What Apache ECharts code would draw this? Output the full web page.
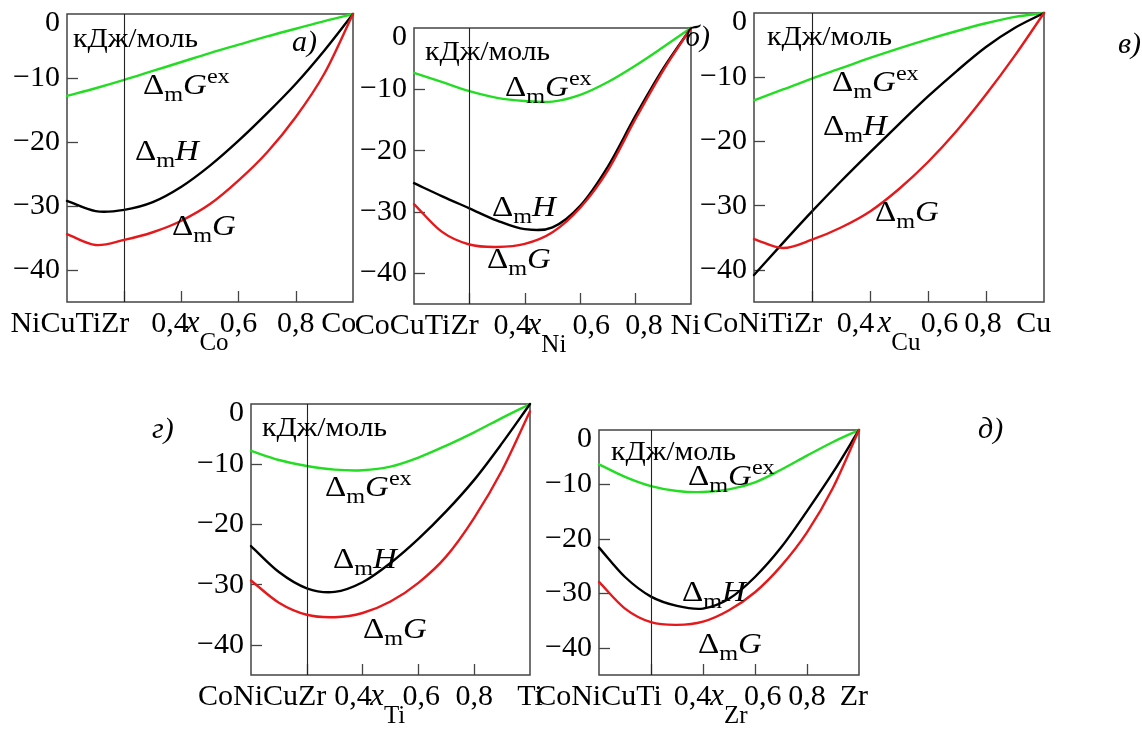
<!DOCTYPE html>
<html>
<head>
<meta charset="utf-8">
<script src="https://cdn.jsdelivr.net/npm/echarts@6/dist/echarts.min.js"></script>
<style>
  html, body { margin: 0; padding: 0; background: #ffffff; }
  #chart { width: 1142px; height: 729px; }
</style>
</head>
<body>
<div id="chart"></div>
<script>
// Mole fraction of the added element
const xs = [0, 0.1, 0.2, 0.3, 0.4, 0.5, 0.6, 0.7, 0.8, 0.9, 1];

// а) NiCuTiZr – Co
const gexCo = [-12.8, -11.6, -10.3, -8.9, -7.5, -6.1, -4.8, -3.5, -2.3, -1.1, 0];
const hCo   = [-29.2, -30.8, -30.6, -29.4, -27.0, -23.7, -19.8, -15.5, -10.9, -5.7, 0];
const gCo   = [-34.4, -36.1, -35.3, -34.1, -32.3, -29.7, -26.0, -21.6, -16.1, -9.3, 0];

// б) CoCuTiZr – Ni
const gexNi = [-7.3, -8.8, -10.3, -11.4, -11.9, -12.0, -10.9, -8.8, -6.1, -3.1, 0];
const hNi   = [-25.3, -27.4, -29.4, -31.4, -32.8, -32.5, -29.0, -22.6, -14.3, -6.6, 0];
const gNi   = [-28.7, -33.2, -35.3, -35.7, -35.2, -33.3, -29.3, -23.2, -14.8, -6.9, 0];

// в) CoNiTiZr – Cu
const gexCu = [-13.6, -11.9, -10.2, -8.6, -7.0, -5.5, -4.1, -2.8, -1.6, -0.6, 0];
const hCu   = [-40.8, -35.8, -30.9, -26.2, -21.7, -17.3, -13.0, -9.0, -5.3, -2.3, 0];
const gCu   = [-35.2, -36.6, -35.3, -33.4, -30.9, -27.4, -23.2, -18.3, -12.7, -6.6, 0];

// г) CoNiCuZr – Ti
const gexTi = [-7.8, -9.3, -10.3, -10.9, -11.0, -10.4, -8.9, -6.9, -4.7, -2.3, 0];
const hTi   = [-23.6, -27.9, -30.6, -31.2, -29.6, -26.4, -22.4, -17.8, -12.6, -6.5, 0];
const gTi   = [-29.3, -33.0, -35.0, -35.4, -34.7, -32.8, -29.7, -25.3, -18.9, -11.0, -1.2];

// д) CoNiCuTi – Zr
const gexZr = [-6.3, -8.6, -10.3, -11.2, -11.4, -10.9, -9.6, -7.3, -4.7, -2.2, 0];
const hZr   = [-21.6, -27.0, -30.6, -32.3, -32.8, -31.0, -27.0, -21.6, -14.9, -7.8, 0];
const gZr   = [-27.9, -32.8, -35.3, -35.8, -35.2, -33.1, -29.8, -25.0, -18.8, -10.6, 0];

// Axis texts
const elements = ['Co', 'Ni', 'Cu', 'Ti', 'Zr'];
const baseAlloys = ['NiCuTiZr', 'CoCuTiZr', 'CoNiTiZr', 'CoNiCuZr', 'CoNiCuTi'];
const panelLetters = ['а)', 'б)', 'в)', 'г)', 'д)'];
const xTickTexts = ['0,4', '0,6', '0,8'];
const yTickValues = [0, -10, -20, -30, -40];
const unitText = 'кДж/моль';
const equiatomicX = 0.2;

const seriesSets = [
  [gexCo, hCo, gCo],
  [gexNi, hNi, gNi],
  [gexCu, hCu, gCu],
  [gexTi, hTi, gTi],
  [gexZr, hZr, gZr]
];

// ---- layout ----
const SERIF = '"Liberation Serif", "DejaVu Serif", serif';
const colors = ['#22dd22', '#000000', '#e5191b'];
const grids = [
  { left: 67,  top: 14,  width: 286, height: 288 },
  { left: 414, top: 28,  width: 277, height: 276 },
  { left: 754, top: 13,  width: 290, height: 289 },
  { left: 251, top: 404, width: 279, height: 281 },
  { left: 599, top: 430, width: 260, height: 260 }
];
// where the bottom texts sit along each x axis: base, 0,4, x, 0,6, 0,8, element
const xLabelSpots = [
  [0.01, 0.36, 0.49, 0.6, 0.8, 0.95],
  [0.01, 0.355, 0.48, 0.64, 0.83, 0.98],
  [0.03, 0.35, 0.50, 0.64, 0.79, 0.965],
  [0.04, 0.366, 0.49, 0.61, 0.80, 1.0],
  [0.0, 0.36, 0.50, 0.63, 0.80, 0.98]
];
// top-left corners of curve captions: [Gex, H, G]
const captionSpots = [
  [[143, 66], [135, 132], [172, 207]],
  [[505, 68], [492, 188], [487, 240]],
  [[832, 63], [823, 107], [875, 193]],
  [[325, 468], [333, 540], [363, 610]],
  [[688, 457], [682, 573], [698, 625]]
];
const unitSpots = [[73, 40], [425, 53], [767, 38], [262, 429], [611, 453]];
const letterSpots = [[292, 43], [685, 38], [1118, 45], [152, 430], [978, 430]];

const tickFont = 30;

// Smooth cubic (Catmull-Rom) path through pixel points
function splinePath(pts) {
  const n = pts.length;
  const at = (i) => {
    if (i < 0) return [2 * pts[0][0] - pts[1][0], 2 * pts[0][1] - pts[1][1]];
    if (i >= n) return [2 * pts[n - 1][0] - pts[n - 2][0], 2 * pts[n - 1][1] - pts[n - 2][1]];
    return pts[i];
  };
  let d = 'M' + pts[0][0] + ' ' + pts[0][1];
  for (let i = 0; i < n - 1; i++) {
    const p0 = at(i - 1), p1 = at(i), p2 = at(i + 1), p3 = at(i + 2);
    const c1x = p1[0] + (p2[0] - p0[0]) / 6, c1y = p1[1] + (p2[1] - p0[1]) / 6;
    const c2x = p2[0] - (p3[0] - p1[0]) / 6, c2y = p2[1] - (p3[1] - p1[1]) / 6;
    d += ' C' + c1x + ' ' + c1y + ' ' + c2x + ' ' + c2y + ' ' + p2[0] + ' ' + p2[1];
  }
  return d;
}

const xAxes = [], yAxes = [], series = [], graphics = [];

grids.forEach((g, i) => {
  const spots = xLabelSpots[i];
  const texts = [
    '{n|' + baseAlloys[i] + '}',
    '{n|' + xTickTexts[0] + '}',
    '{xi|x}{xs|' + elements[i] + '}',
    '{n|' + xTickTexts[1] + '}',
    '{n|' + xTickTexts[2] + '}',
    '{n|' + elements[i] + '}'
  ];
  xAxes.push({
    type: 'value', gridIndex: i, min: 0, max: 1,
    axisLine: { show: false, onZero: false },
    splitLine: { show: false },
    axisTick: {
      show: true, inside: true, length: 11,
      customValues: [0.2, 0.4, 0.6, 0.8],
      lineStyle: { color: '#444', width: 1.3 }
    },
    axisLabel: {
      show: true, margin: 7,
      customValues: spots,
      formatter: (v) => {
        let k = 0;
        spots.forEach((s, j) => { if (Math.abs(s - v) < 1e-6) k = j; });
        return texts[k];
      },
      rich: {
        n: { fontFamily: SERIF, fontSize: tickFont, color: '#000', lineHeight: 30 },
        xi: { fontFamily: SERIF, fontSize: 31, fontStyle: 'italic', color: '#000', lineHeight: 30 },
        xs: { fontFamily: SERIF, fontSize: 25, color: '#000', lineHeight: 30,
              verticalAlign: 'top', padding: [22, 0, 0, 0] }
      }
    }
  });
  yAxes.push({
    type: 'value', gridIndex: i, min: -45, max: 0,
    axisLine: { show: false, onZero: false },
    splitLine: { show: false },
    axisTick: {
      show: true, inside: true, length: 11,
      customValues: [-10, -20, -30, -40],
      lineStyle: { color: '#444', width: 1.3 }
    },
    axisLabel: {
      show: true, margin: 7,
      customValues: yTickValues,
      formatter: (v) => v === 0 ? '{z|0}' : '{n|\u2212' + Math.abs(v) + '}',
      rich: {
        n: { fontFamily: SERIF, fontSize: tickFont, color: '#000' },
        z: { fontFamily: SERIF, fontSize: tickFont, color: '#000', padding: [18, 0, 0, 0] }
      }
    }
  });
  seriesSets[i].forEach((ys, k) => {
    const s = {
      type: 'custom', coordinateSystem: 'cartesian2d',
      xAxisIndex: i, yAxisIndex: i,
      data: xs.map((x, j) => [x, ys[j]]),
      encode: { x: 0, y: 1 },
      clip: false, silent: true, z: 3 + k,
      renderItem: (params, api) => {
        if (params.dataIndex !== 0) return null;
        const pts = xs.map((x, j) => api.coord([x, ys[j]]));
        return {
          type: 'path',
          shape: { pathData: splinePath(pts) },
          style: { stroke: colors[k], fill: null, lineWidth: 2.4, lineJoin: 'round', lineCap: 'round' }
        };
      }
    };
    if (k === 0) {
      s.markLine = {
        silent: true, symbol: 'none', label: { show: false },
        lineStyle: { color: '#222', width: 1.1, type: 'solid' },
        data: [{ xAxis: equiatomicX }]
      };
    }
    series.push(s);
  });

  // curve captions
  const capTexts = [
    '{d|Δ}{m|m}{g|G}{e|ex}',
    '{d|Δ}{m|m}{g|H}',
    '{d|Δ}{m|m}{g|G}'
  ];
  captionSpots[i].forEach((p, k) => {
    graphics.push({
      type: 'text', x: p[0], y: p[1], scaleX: 1.1, z: 10, silent: true,
      style: {
        text: capTexts[k],
        align: 'left', verticalAlign: 'top',
        textAlign: 'left', textVerticalAlign: 'top',
        rich: {
          d: { fontFamily: SERIF, fontSize: 30, fill: '#000', color: '#000', lineHeight: 40 },
          g: { fontFamily: SERIF, fontSize: 30, fontStyle: 'italic', fill: '#000', color: '#000', lineHeight: 40 },
          m: { fontFamily: SERIF, fontSize: 22, fill: '#000', color: '#000', lineHeight: 40,
               verticalAlign: 'top', padding: [18, 0, 0, 0] },
          e: { fontFamily: SERIF, fontSize: 22, fill: '#000', color: '#000', lineHeight: 40,
               verticalAlign: 'top' }
        }
      }
    });
  });
  // unit text
  graphics.push({
    type: 'text', x: unitSpots[i][0], y: unitSpots[i][1], scaleX: 1.1, z: 10, silent: true,
    style: {
      text: unitText, font: '27px ' + SERIF, fill: '#000',
      align: 'left', verticalAlign: 'middle',
      textAlign: 'left', textVerticalAlign: 'middle'
    }
  });
  // panel letter
  graphics.push({
    type: 'text', x: letterSpots[i][0], y: letterSpots[i][1], z: 10, silent: true,
    style: {
      text: panelLetters[i], font: 'italic 30px ' + SERIF, fill: '#000',
      align: 'left', verticalAlign: 'middle',
      textAlign: 'left', textVerticalAlign: 'middle'
    }
  });
});

const chart = echarts.init(document.getElementById('chart'), null, { renderer: 'canvas' });
chart.setOption({
  backgroundColor: '#ffffff',
  animation: false,
  grid: grids.map(g => Object.assign({
    show: true, borderColor: '#444', borderWidth: 1.5,
    backgroundColor: 'transparent', containLabel: false
  }, g)),
  xAxis: xAxes,
  yAxis: yAxes,
  series: series,
  graphic: graphics
});
</script>
</body>
</html>
